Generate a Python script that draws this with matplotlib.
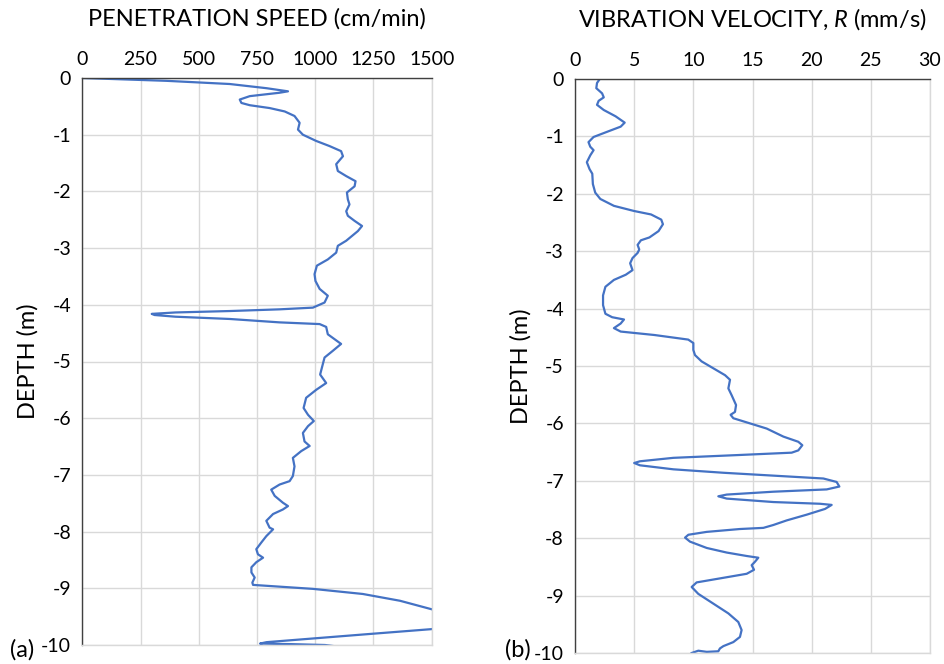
import matplotlib
matplotlib.use("Agg")
import matplotlib.pyplot as plt

plt.rcParams['font.family'] = ['Lato', 'DejaVu Sans']
plt.rcParams['axes.unicode_minus'] = False
plt.rcParams['mathtext.fontset'] = 'custom'
plt.rcParams['mathtext.it'] = 'Lato:italic'
plt.rcParams['mathtext.rm'] = 'Lato'

# Panel (a): penetration speed (cm/min) vs depth (m)
speed = [0, 362, 633, 791, 883, 847, 719, 676, 683, 719, 804, 869, 911, 933, 926, 947, 1004,
         1061, 1111, 1119, 1090, 1097, 1133, 1173, 1169, 1136, 1140, 1147, 1133, 1140, 1169,
         1201, 1183, 1133, 1097, 1090, 1054, 1007, 997, 1001, 1019, 1054, 1040, 990, 847, 633,
         400, 298, 310, 400, 633, 847, 1019, 1047, 1054, 1111, 1076, 1040, 1033, 1021, 1047,
         1004, 961, 950, 969, 994, 969, 947, 954, 976, 940, 904, 911, 904, 890, 847, 811, 826,
         861, 883, 861, 819, 790, 804, 819, 790, 769, 747, 754, 776, 747, 726, 726, 740, 730,
         733, 990, 1204, 1364, 1500, 1580, 1600, 1570, 1500, 1220, 791, 763, 900, 1042, 1100]
speed_depth = [0, -0.05, -0.106, -0.18, -0.235, -0.26, -0.32, -0.38, -0.44, -0.48, -0.53,
               -0.59, -0.67, -0.79, -0.91, -1.0, -1.11, -1.20, -1.29, -1.38, -1.52, -1.64,
               -1.73, -1.82, -1.91, -2.02, -2.14, -2.23, -2.35, -2.43, -2.52, -2.61, -2.70,
               -2.87, -2.96, -3.08, -3.20, -3.31, -3.46, -3.58, -3.72, -3.84, -3.96, -4.05,
               -4.08, -4.11, -4.135, -4.16, -4.18, -4.21, -4.25, -4.31, -4.34, -4.39, -4.52,
               -4.69, -4.81, -4.93, -5.04, -5.23, -5.38, -5.50, -5.64, -5.82, -5.94, -6.05,
               -6.14, -6.26, -6.41, -6.49, -6.58, -6.70, -6.85, -7.02, -7.11, -7.17, -7.26,
               -7.37, -7.49, -7.55, -7.61, -7.69, -7.81, -7.93, -7.96, -8.08, -8.19, -8.31,
               -8.40, -8.46, -8.54, -8.63, -8.72, -8.81, -8.90, -8.94, -9.01, -9.10, -9.22,
               -9.37, -9.46, -9.55, -9.64, -9.72, -9.81, -9.95, -9.975, -9.985, -10.0, -10.03]

# Panel (b): vibration velocity R (mm/s) vs depth (m)
vel = [2.09, 1.86, 1.80, 2.29, 2.43, 2.00, 1.86, 2.43, 3.43, 4.20, 3.86, 2.71, 1.57, 1.14,
       1.29, 1.57, 1.29, 1.00, 1.23, 1.46, 1.51, 1.71, 2.14, 3.29, 5.00, 6.43, 7.29, 7.43,
       7.06, 6.29, 5.57, 5.29, 5.43, 5.29, 4.86, 4.66, 4.86, 4.29, 3.29, 2.57, 2.37, 2.37,
       2.57, 3.14, 4.14, 3.86, 3.29, 3.86, 6.71, 9.57, 10.0, 10.0, 10.14, 10.70, 11.69,
       12.68, 13.10, 12.96, 13.24, 13.61, 13.52, 13.15, 13.38, 14.79, 16.20, 17.61, 18.87,
       19.21, 18.87, 18.31, 13.94, 8.31, 5.49, 5.00, 5.49, 8.31, 12.54, 16.76, 20.99, 22.11,
       22.34, 21.27, 16.76, 12.82, 12.11, 12.82, 16.76, 20.70, 21.69, 21.13, 19.58, 17.89,
       16.76, 15.92, 13.94, 11.13, 9.58, 9.30, 9.72, 11.13, 12.82, 14.51, 15.49, 15.21, 14.93,
       15.13, 14.51, 12.54, 10.28, 9.86, 10.42, 11.69, 12.96, 13.80, 14.08, 13.94, 13.38,
       12.54, 12.25, 12.11, 11.13, 10.42, 9.86]
vel_depth = [0, -0.07, -0.16, -0.25, -0.32, -0.38, -0.45, -0.54, -0.65, -0.76, -0.83, -0.92,
             -1.01, -1.10, -1.18, -1.24, -1.33, -1.45, -1.57, -1.65, -1.83, -1.98, -2.09,
             -2.21, -2.30, -2.36, -2.45, -2.53, -2.65, -2.76, -2.81, -2.89, -2.97, -3.03,
             -3.12, -3.21, -3.33, -3.41, -3.50, -3.62, -3.77, -3.94, -4.09, -4.15, -4.19,
             -4.26, -4.34, -4.40, -4.46, -4.54, -4.60, -4.72, -4.81, -4.92, -5.04, -5.16,
             -5.24, -5.39, -5.51, -5.68, -5.80, -5.85, -5.91, -6.00, -6.09, -6.23, -6.32,
             -6.38, -6.47, -6.51, -6.55, -6.60, -6.66, -6.69, -6.73, -6.80, -6.86, -6.91,
             -6.96, -7.02, -7.10, -7.15, -7.19, -7.24, -7.27, -7.31, -7.37, -7.40, -7.42,
             -7.49, -7.59, -7.69, -7.77, -7.82, -7.84, -7.89, -7.94, -7.99, -8.06, -8.17,
             -8.25, -8.31, -8.34, -8.41, -8.47, -8.55, -8.62, -8.69, -8.77, -8.85, -8.97,
             -9.14, -9.31, -9.46, -9.60, -9.72, -9.81, -9.88, -9.92, -9.97, -9.98, -9.96,
             -10.0]

speed_ticks = [0, 250, 500, 750, 1000, 1250, 1500]
vel_ticks = [0, 5, 10, 15, 20, 25, 30]
depth_ticks = list(range(0, -11, -1))

W, H = 945, 664
fig = plt.figure(figsize=(W / 100, H / 100), dpi=100)

LINE = '#4472C4'
GRID = '#D9D9D9'


def make_ax(l, r, t, b):
    return fig.add_axes([l / W, 1 - b / H, (r - l) / W, (b - t) / H])


def style(ax, xticks, xmax, title, panel, panel_x, panel_y):
    ax.set_xlim(0, xmax)
    ax.set_ylim(-10, 0)
    ax.set_xticks(xticks)
    ax.set_yticks(depth_ticks)
    ax.xaxis.tick_top()
    ax.tick_params(axis='both', length=0, labelsize=14, colors='black')
    ax.tick_params(axis='x', pad=7)
    ax.tick_params(axis='y', pad=8)
    ax.grid(True, color=GRID, lw=1.0)
    ax.set_axisbelow(True)
    for s in ['right', 'bottom']:
        ax.spines[s].set_color(GRID)
        ax.spines[s].set_linewidth(1.0)
    for s in ['left', 'top']:
        ax.spines[s].set_color('#404040')
        ax.spines[s].set_linewidth(1.0)
    ax.set_title(title, fontsize=17, pad=38)
    ax.set_ylabel('DEPTH (m)', fontsize=17, labelpad=2)
    ax.text(panel_x, panel_y, panel, transform=ax.get_yaxis_transform(), fontsize=17,
            ha='left', va='center')


ax1 = make_ax(82.3, 431.7, 78, 645)
ax1.plot(speed, speed_depth, color=LINE, lw=1.6, clip_on=True)
style(ax1, speed_ticks, 1500, 'PENETRATION SPEED (cm/min)', '(a)', -0.207, -10.08)

ax2 = make_ax(575, 930, 79, 653)
ax2.plot(vel, vel_depth, color=LINE, lw=1.6, clip_on=True)
style(ax2, vel_ticks, 30, 'VIBRATION VELOCITY, $\\mathit{R}$ (mm/s)', '(b)', -0.197, -9.95)

fig.savefig('out.png', dpi=100)
